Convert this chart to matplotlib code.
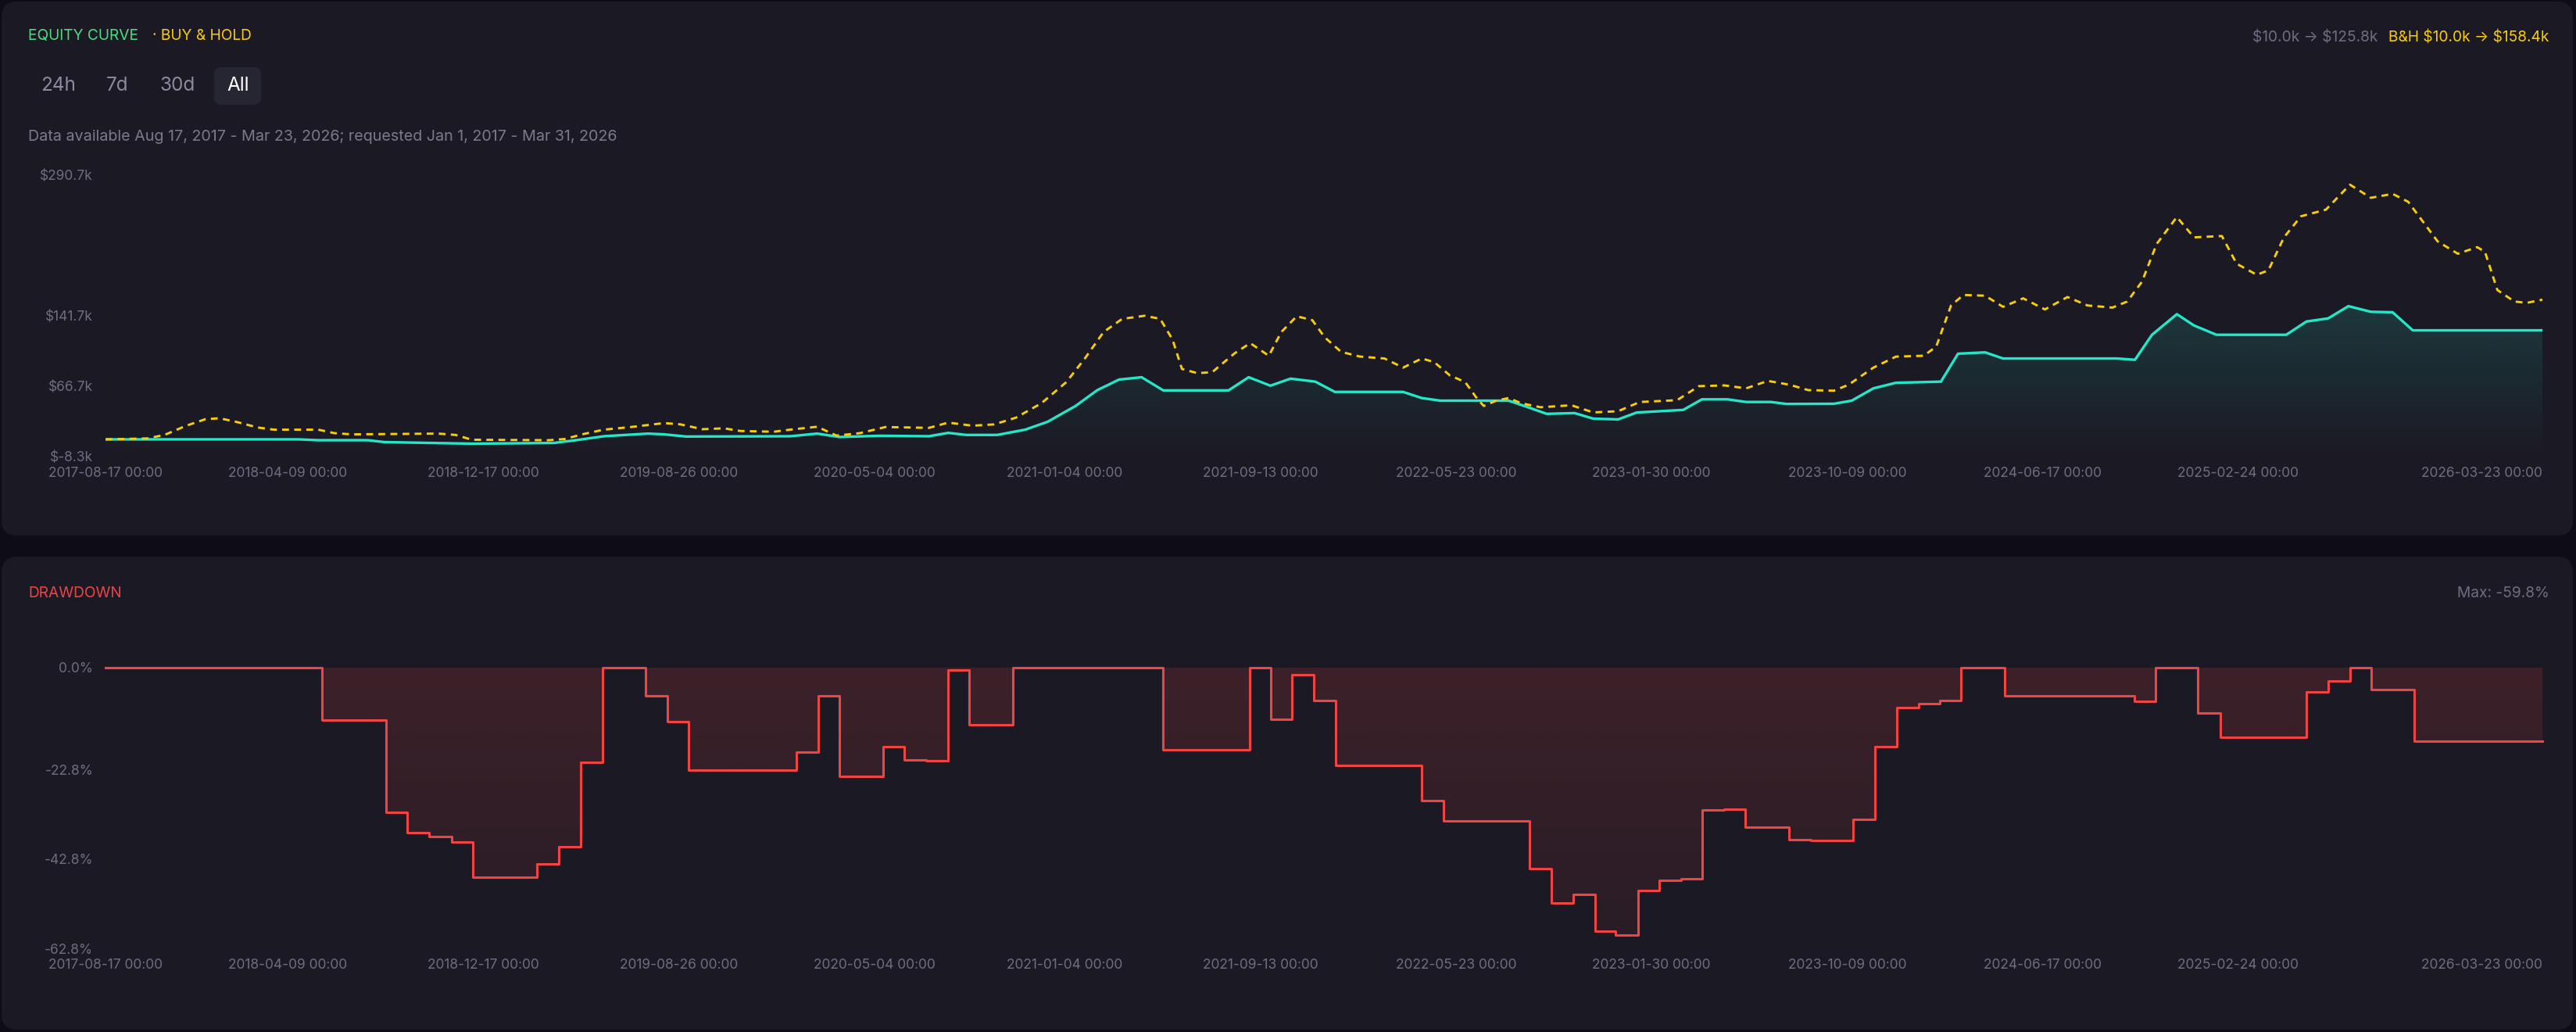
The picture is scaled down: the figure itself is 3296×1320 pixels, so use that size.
import matplotlib
matplotlib.use('Agg')
import matplotlib.pyplot as plt
import matplotlib.dates as mdates
from matplotlib.patches import FancyBboxPatch
import numpy as np
import pandas as pd

W, H = 3296, 1320

BG = '#0e0d15'
CARD = '#1b1a24'
GRAY = '#6e6d82'
TEAL = '#25e6c8'
YELLOW = '#f7cc0f'
GREEN = '#4ade80'
RED = '#ef4444'

# strategy equity, $k
equity_dates = ['2017-08-17', '2018-04-23', '2018-05-18', '2018-07-21', '2018-08-11', '2018-12-02',
                '2019-03-18', '2019-04-15', '2019-05-21', '2019-06-18', '2019-07-17', '2019-08-07',
                '2019-09-04', '2020-01-16', '2020-02-20', '2020-03-20', '2020-05-10', '2020-07-13',
                '2020-08-07', '2020-08-30', '2020-10-09', '2020-11-14', '2020-12-13', '2021-01-18',
                '2021-02-15', '2021-03-15', '2021-04-13', '2021-05-11', '2021-08-03', '2021-08-29',
                '2021-09-26', '2021-10-22', '2021-11-23', '2021-12-18', '2022-03-16', '2022-04-09',
                '2022-05-03', '2022-07-30', '2022-08-24', '2022-09-17', '2022-10-23', '2022-11-16',
                '2022-12-18', '2023-01-11', '2023-03-12', '2023-04-05', '2023-05-08', '2023-06-01',
                '2023-07-03', '2023-07-23', '2023-09-22', '2023-10-15', '2023-11-12', '2023-12-11',
                '2024-02-07', '2024-02-29', '2024-04-04', '2024-04-27', '2024-09-21', '2024-10-14',
                '2024-11-05', '2024-12-07', '2024-12-29', '2025-01-27', '2025-04-27', '2025-05-23',
                '2025-06-20', '2025-07-16', '2025-08-14', '2025-09-11', '2025-10-07', '2026-03-23']
equity_values = [10.0, 10.0, 9.1, 9.1, 7.1, 5.4,
                 6.2, 9.1, 13.3, 14.7, 16.1, 15.3,
                 13.0, 13.3, 16.1, 12.5, 13.8, 13.3,
                 16.9, 14.7, 14.7, 20.3, 28.7, 45.5,
                 62.3, 73.5, 76.0, 62.0, 62.0, 76.0,
                 67.0, 74.5, 71.3, 60.4, 60.4, 53.9,
                 51.1, 51.1, 44.1, 37.1, 37.9, 32.0,
                 31.2, 38.5, 41.3, 52.5, 52.5, 49.7,
                 49.7, 47.6, 47.8, 51.1, 64.2, 70.1,
                 71.3, 101.0, 102.4, 95.9, 95.9, 94.5,
                 121.1, 143.0, 131.0, 121.1, 121.1, 135.2,
                 138.5, 151.5, 145.5, 145.0, 125.8, 125.8]

# buy & hold, $k
bh_dates = ['2017-08-17', '2017-10-10', '2017-11-01', '2017-11-29', '2017-12-24', '2018-01-11',
            '2018-02-01', '2018-03-01', '2018-03-22', '2018-05-18', '2018-06-08', '2018-06-30',
            '2018-10-20', '2018-11-11', '2018-12-02', '2019-03-11', '2019-04-01', '2019-04-23',
            '2019-05-21', '2019-06-25', '2019-08-07', '2019-08-28', '2019-09-25', '2019-10-23',
            '2019-11-13', '2019-12-26', '2020-01-16', '2020-02-20', '2020-03-16', '2020-04-15',
            '2020-05-18', '2020-07-13', '2020-08-07', '2020-09-07', '2020-10-05', '2020-11-02',
            '2020-12-05', '2021-01-06', '2021-01-30', '2021-02-23', '2021-03-19', '2021-04-17',
            '2021-05-07', '2021-05-23', '2021-06-04', '2021-06-24', '2021-07-13', '2021-08-11',
            '2021-08-31', '2021-09-24', '2021-10-10', '2021-10-30', '2021-11-19', '2021-12-05',
            '2021-12-26', '2022-01-19', '2022-02-20', '2022-03-16', '2022-04-09', '2022-04-25',
            '2022-05-15', '2022-06-04', '2022-06-20', '2022-06-28', '2022-07-14', '2022-07-30',
            '2022-08-15', '2022-09-09', '2022-10-19', '2022-11-16', '2022-12-18', '2023-01-15',
            '2023-03-04', '2023-04-01', '2023-05-04', '2023-06-01', '2023-06-29', '2023-07-27',
            '2023-08-20', '2023-09-22', '2023-10-11', '2023-11-12', '2023-12-11', '2024-01-16',
            '2024-02-01', '2024-02-20', '2024-03-07', '2024-04-04', '2024-04-27', '2024-05-23',
            '2024-06-20', '2024-07-19', '2024-08-14', '2024-09-15', '2024-10-04', '2024-10-23',
            '2024-11-11', '2024-12-07', '2024-12-29', '2025-02-03', '2025-02-22', '2025-03-20',
            '2025-04-04', '2025-04-24', '2025-05-16', '2025-06-17', '2025-07-18', '2025-08-14',
            '2025-09-11', '2025-10-01', '2025-11-08', '2025-12-04', '2025-12-29', '2026-01-08',
            '2026-01-24', '2026-02-15', '2026-03-03', '2026-03-23']
bh_values = [10.0, 11.0, 14.7, 24.5, 31.5, 32.4,
             28.7, 22.6, 20.3, 20.3, 16.6, 15.3,
             16.1, 14.7, 9.6, 9.1, 10.4, 15.3,
             20.3, 23.1, 27.3, 25.9, 20.8, 21.7,
             18.9, 18.1, 20.3, 23.4, 14.0, 16.6,
             23.1, 22.2, 27.8, 24.5, 25.9, 33.0,
             48.4, 70.8, 96.0, 124.0, 138.0, 141.3,
             138.0, 115.8, 84.8, 80.3, 81.4, 101.5,
             112.2, 98.8, 124.0, 140.8, 136.6, 118.4,
             103.0, 98.0, 95.9, 86.2, 95.9, 92.1,
             78.1, 70.8, 52.5, 45.5, 51.1, 53.9,
             48.4, 44.1, 46.2, 38.6, 39.9, 49.7,
             51.6, 66.5, 67.3, 64.2, 72.1, 68.0,
             62.3, 61.7, 68.0, 86.2, 97.9, 98.8,
             108.7, 152.2, 163.4, 162.6, 150.8, 159.8,
             148.0, 161.2, 152.2, 150.0, 156.4, 177.4,
             217.6, 246.2, 224.6, 226.0, 196.6, 184.8,
             189.6, 224.6, 247.0, 254.0, 280.6, 266.6,
             270.8, 262.4, 220.3, 207.2, 214.2, 209.2,
             168.6, 156.4, 155.0, 158.4]

# drawdown steps, % (value holds from each date to the next)
dd_dates = ['2017-08-17', '2018-05-23', '2018-08-14', '2018-09-10', '2018-10-08', '2018-11-06',
            '2018-12-03', '2019-02-24', '2019-03-24', '2019-04-21', '2019-05-19', '2019-07-14',
            '2019-08-11', '2019-09-07', '2020-01-24', '2020-02-21', '2020-03-20', '2020-05-15',
            '2020-06-11', '2020-07-09', '2020-08-07', '2020-09-03', '2020-10-29', '2021-05-11',
            '2021-08-30', '2021-09-27', '2021-10-24', '2021-11-21', '2021-12-19', '2022-04-09',
            '2022-05-07', '2022-08-26', '2022-09-23', '2022-10-21', '2022-11-18', '2022-12-15',
            '2023-01-13', '2023-02-09', '2023-03-09', '2023-04-05', '2023-05-04', '2023-05-31',
            '2023-07-26', '2023-08-23', '2023-10-17', '2023-11-14', '2023-12-12', '2024-01-09',
            '2024-02-06', '2024-03-04', '2024-04-29', '2024-10-13', '2024-11-10', '2025-01-03',
            '2025-02-01', '2025-05-23', '2025-06-20', '2025-07-18', '2025-08-14', '2025-10-09']
dd_values = [0.0, -11.8, -32.3, -36.8, -37.7, -38.9,
             -46.8, -43.8, -40.1, -21.1, 0.0, -6.3,
             -12.1, -23.0, -18.9, -6.4, -24.4, -17.7,
             -20.6, -20.9, -0.6, -12.8, 0.0, -18.3,
             0.0, -11.6, -1.6, -7.4, -21.9, -29.8,
             -34.3, -44.9, -52.5, -50.6, -58.9, -59.8,
             -49.8, -47.6, -47.1, -31.9, -31.6, -35.6,
             -38.5, -38.6, -33.9, -17.7, -8.9, -8.1,
             -7.4, 0.0, -6.3, -7.5, 0.0, -10.2,
             -15.6, -5.5, -3.1, 0.0, -5.0, -16.4]
end_date = '2026-03-23'

equity_ticks = [-8.3, 66.7, 141.7, 290.7]
dd_ticks = [0.0, -22.8, -42.8, -62.8]
x_tick_dates = ['2017-08-17', '2018-04-09', '2018-12-17', '2019-08-26', '2020-05-04', '2021-01-04',
                '2021-09-13', '2022-05-23', '2023-01-30', '2023-10-09', '2024-06-17', '2025-02-24',
                '2026-03-23']

plt.rcParams['font.family'] = ['Inter', 'DejaVu Sans']

fig = plt.figure(figsize=(W / 100, H / 100), dpi=100)
fig.patch.set_facecolor(BG)

# background layer in pixel coordinates (y down)
bg = fig.add_axes([0, 0, 1, 1], zorder=-1)
bg.set_xlim(0, W)
bg.set_ylim(H, 0)
bg.axis('off')
for (x0, y0, x1, y1) in [(2, 2, 3292, 685), (2, 712, 3292, 1317)]:
    bg.add_patch(FancyBboxPatch((x0, y0), x1 - x0, y1 - y0,
                                boxstyle='round,pad=0,rounding_size=20',
                                fc=CARD, ec='none'))
bg.add_patch(FancyBboxPatch((274, 86), 60, 48, boxstyle='round,pad=0,rounding_size=9',
                            fc='#262532', ec='none'))

bg.text(36, 46, 'EQUITY CURVE', color=GREEN, fontsize=13.8, va='center')
bg.text(195, 46, '· BUY & HOLD', color=YELLOW, fontsize=13.8, va='center')
bg.text(3042, 48, r'\$10.0k → \$125.8k', color=GRAY, fontsize=13.8, va='center', ha='right')
bg.text(3261, 48, r'B&H \$10.0k → \$158.4k', color=YELLOW, fontsize=13.8, va='center', ha='right')
for label, x, c in [('24h', 52, '#8b8a9e'), ('7d', 136, '#8b8a9e'), ('30d', 205, '#8b8a9e'),
                    ('All', 290, '#ffffff')]:
    bg.text(x, 110, label, color=c, fontsize=17.5, va='center')
bg.text(36, 175, 'Data available Aug 17, 2017 - Mar 23, 2026; requested Jan 1, 2017 - Mar 31, 2026',
        color='#7a798d', fontsize=14.2, va='center')
bg.text(36, 759, 'DRAWDOWN', color=RED, fontsize=13.8, va='center')
bg.text(3262, 759, 'Max: -59.8%', color=GRAY, fontsize=13.8, va='center', ha='right')


def ax_rect(l, t, r, b):
    return [l / W, 1 - b / H, (r - l) / W, (b - t) / H]


def style(ax, pad_x):
    ax.set_facecolor('none')
    for s in ax.spines.values():
        s.set_visible(False)
    ax.tick_params(axis='both', length=0, colors=GRAY, labelsize=12.5)
    ax.tick_params(axis='y', pad=11.5)
    ax.tick_params(axis='x', pad=pad_x)
    ticks = pd.to_datetime(x_tick_dates)
    ax.set_xticks(ticks)
    ax.set_xticklabels([t.strftime('%Y-%m-%d 00:00') for t in ticks])
    ax.get_xticklabels()[-1].set_ha('right')


def gradient_fill(ax, xs, ys, base, top, a_top, a_bot, color):
    poly = ax.fill_between(xs, ys, base, color='none')
    rgb = matplotlib.colors.to_rgb(color)
    grad = np.zeros((256, 1, 4))
    grad[:, 0, :3] = rgb
    grad[:, 0, 3] = np.linspace(a_bot, a_top, 256)
    x0, x1 = mdates.date2num(xs[0]), mdates.date2num(xs[-1])
    img = ax.imshow(grad, extent=[x0, x1, base, top], aspect='auto',
                    origin='lower', zorder=1, interpolation='bilinear')
    img.set_clip_path(poly.get_paths()[0], transform=ax.transData)


xmin, xmax = pd.Timestamp(x_tick_dates[0]), pd.Timestamp(end_date)

# equity chart
ax1 = fig.add_axes(ax_rect(135, 224, 3253, 584))
eq_x = pd.to_datetime(equity_dates)
bh_x = pd.to_datetime(bh_dates)
gradient_fill(ax1, eq_x, equity_values, equity_ticks[0], max(equity_values), 0.15, 0.0, TEAL)
ax1.plot(eq_x, equity_values, color=TEAL, lw=2.4, zorder=3, solid_joinstyle='round')
ax1.plot(bh_x, bh_values, color=YELLOW, lw=2.1, zorder=4, dashes=(3, 2.3))
ax1.set_xlim(xmin, xmax)
ax1.set_ylim(equity_ticks[0], equity_ticks[-1])
ax1.set_yticks(equity_ticks)
ax1.set_yticklabels([f'\\${v:.1f}k' for v in equity_ticks])
style(ax1, 9)

# drawdown chart
ax2 = fig.add_axes(ax_rect(135, 853.6, 3253, 1213.6))
dd_x = pd.to_datetime(dd_dates + [end_date])
dd_y = dd_values + [dd_values[-1]]
poly = ax2.fill_between(dd_x, dd_y, 0, step='post', color='none')
rgb = matplotlib.colors.to_rgb(RED)
grad = np.zeros((256, 1, 4))
grad[:, 0, :3] = rgb
grad[:, 0, 3] = np.linspace(0.07, 0.16, 256)
img = ax2.imshow(grad, extent=[mdates.date2num(dd_x[0]), mdates.date2num(dd_x[-1]), min(dd_y), 0],
                 aspect='auto', origin='lower', zorder=1)
img.set_clip_path(poly.get_paths()[0], transform=ax2.transData)
ax2.step(dd_x, dd_y, where='post', color=RED, lw=2.2, zorder=3, clip_on=False)
ax2.set_xlim(xmin, xmax)
ax2.set_ylim(dd_ticks[-1], 0)
ax2.set_yticks(dd_ticks)
ax2.set_yticklabels([f'{v:.1f}%' for v in dd_ticks])
style(ax2, 9)

fig.savefig('out.png', dpi=100, facecolor=BG)
